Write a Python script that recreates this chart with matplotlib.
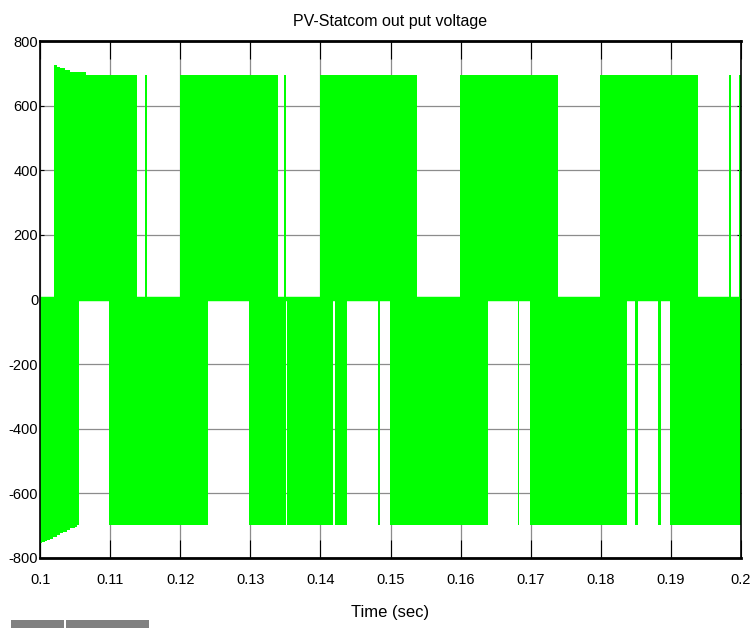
import matplotlib.pyplot as plt
import matplotlib.patches as patches
import numpy as np

plt.rcParams['font.family'] = ['Liberation Sans Narrow', 'Liberation Sans', 'DejaVu Sans']

# data
# start-up transient of the first positive pulse group (top envelope)
pos_tr_t = [0.1019, 0.10237, 0.10285, 0.10356, 0.10427, 0.10651, 0.11385]
pos_tr_v = [727, 721, 716, 710, 703, 695, 695]
# start-up transient of the first negative pulse group (bottom envelope)
neg_tr_t = [0.1, 0.10029, 0.10067, 0.1010, 0.10138, 0.10186, 0.10234,
            0.10281, 0.10328, 0.10377, 0.10424, 0.10495, 0.10520]
neg_tr_v = [-755, -752, -748, -744, -740, -734, -729,
            -724, -720, -713, -708, -703, -703]

# steady pulse groups: start / end times
pos_start = [0.11499, 0.11995, 0.13475, 0.1400, 0.15993, 0.17991, 0.19833, 0.19976]
pos_end = [0.11528, 0.13389, 0.13510, 0.15374, 0.17396, 0.19386, 0.19857, 0.2]
pos_level = 695

neg_start = [0.10528, 0.10981, 0.12984, 0.13527, 0.14208, 0.14826, 0.14993,
             0.16816, 0.16991, 0.18494, 0.18823, 0.18995]
neg_end = [0.10548, 0.12390, 0.13508, 0.14175, 0.14375, 0.1485, 0.16388,
           0.16839, 0.18381, 0.18527, 0.18857, 0.2]
neg_level = -698

x_ticks = [0.1, 0.11, 0.12, 0.13, 0.14, 0.15, 0.16, 0.17, 0.18, 0.19, 0.2]
x_labels = ['0.1', '0.11', '0.12', '0.13', '0.14', '0.15', '0.16', '0.17', '0.18', '0.19', '0.2']
y_ticks = [-800, -600, -400, -200, 0, 200, 400, 600, 800]

green = '#00ff00'

fig = plt.figure(figsize=(7.56, 6.28), dpi=100)
ax = fig.add_axes([0.0533, 0.1115, 0.9265, 0.8232])

# zero level band
ax.axhline(0, color=green, lw=3.2, zorder=2)

# transients
ax.fill_between(pos_tr_t, 0, pos_tr_v, step='post', color=green, lw=0, zorder=2)
ax.fill_between(neg_tr_t, 0, neg_tr_v, step='post', color=green, lw=0, zorder=2)

# pulse groups
pos_w = np.array(pos_end) - np.array(pos_start)
neg_w = np.array(neg_end) - np.array(neg_start)
ax.bar(pos_start, pos_level, width=pos_w, bottom=0, align='edge', color=green, lw=0, zorder=2)
ax.bar(neg_start, neg_level, width=neg_w, bottom=0, align='edge', color=green, lw=0, zorder=2)

ax.set_xlim(0.1, 0.2)
ax.set_ylim(-800, 800)
ax.set_xticks(x_ticks)
ax.set_xticklabels(x_labels)
ax.set_yticks(y_ticks)
ax.set_yticklabels([str(v) for v in y_ticks])

ax.grid(True, color='#8c8c8c', lw=0.9, zorder=1)
ax.set_axisbelow(True)

ax.tick_params(axis='x', direction='in', length=13, width=0.8, top=True, pad=11,
               labelsize=10.5, colors='black')
ax.tick_params(axis='y', direction='in', length=3, width=0.8, right=True, pad=1.5,
               labelsize=10.5)

for side in ['top', 'bottom']:
    ax.spines[side].set_linewidth(2)
for side in ['left', 'right']:
    ax.spines[side].set_linewidth(1.2)

ax.set_title('PV-Statcom out put voltage', fontsize=11.5, pad=11)
ax.set_xlabel('Time (sec)', fontsize=12, labelpad=13)

# cropped toolbar remnants at bottom-left
fig.add_artist(patches.Rectangle((11 / 756, 0), 53 / 756, 8 / 628,
                                 transform=fig.transFigure, color='#808080', lw=0))
fig.add_artist(patches.Rectangle((66 / 756, 0), 83 / 756, 8 / 628,
                                 transform=fig.transFigure, color='#808080', lw=0))

plt.savefig('out.png', dpi=100)
plt.close()
